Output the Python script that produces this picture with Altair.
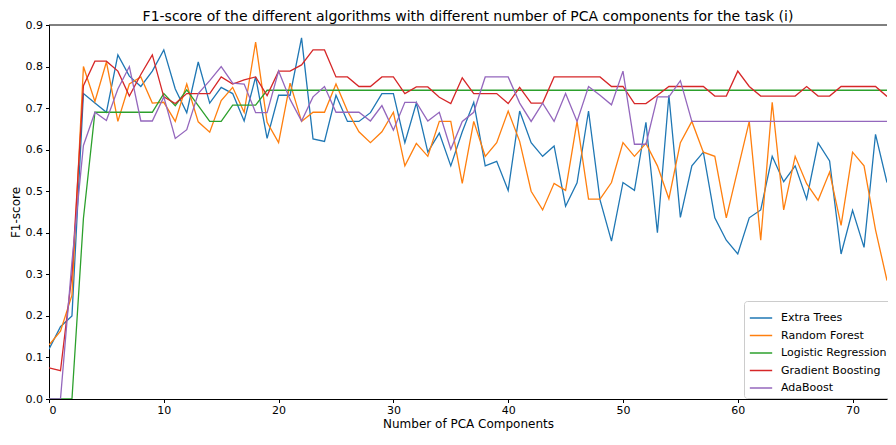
import altair as alt
import pandas as pd

n_components = list(range(74))

extra_trees = [0.12, 0.174, 0.2, 0.735, 0.712, 0.69, 0.828, 0.777, 0.752, 0.789,
               0.84, 0.746, 0.689, 0.811, 0.712, 0.75, 0.735, 0.669, 0.775, 0.627,
               0.731, 0.731, 0.869, 0.626, 0.62, 0.731, 0.668, 0.668, 0.689, 0.735,
               0.735, 0.617, 0.712, 0.594, 0.64, 0.561, 0.643, 0.714, 0.561, 0.572,
               0.502, 0.693, 0.617, 0.584, 0.609, 0.464, 0.52, 0.693, 0.479, 0.38,
               0.521, 0.502, 0.666, 0.40, 0.731, 0.437, 0.561, 0.594, 0.436, 0.382,
               0.349, 0.436, 0.455, 0.584, 0.523, 0.561, 0.481, 0.616, 0.573, 0.349,
               0.454, 0.365, 0.637, 0.521]

random_forest = [0.13, 0.163, 0.25, 0.8, 0.716, 0.811, 0.668, 0.758, 0.775, 0.712,
                 0.714, 0.668, 0.758, 0.667, 0.642, 0.718, 0.75, 0.69, 0.859, 0.666,
                 0.617, 0.76, 0.668, 0.69, 0.69, 0.758, 0.693, 0.643, 0.617, 0.643,
                 0.69, 0.561, 0.615, 0.584, 0.668, 0.668, 0.519, 0.668, 0.584, 0.617,
                 0.693, 0.62, 0.5, 0.455, 0.519, 0.502, 0.668, 0.481, 0.481, 0.521,
                 0.617, 0.584, 0.615, 0.561, 0.482, 0.617, 0.668, 0.594, 0.584, 0.436,
                 0.552, 0.668, 0.382, 0.714, 0.455, 0.584, 0.518, 0.478, 0.546, 0.418,
                 0.594, 0.561, 0.407, 0.285]

logistic_regression = [0.0, 0.0, 0.0, 0.435, 0.69, 0.69, 0.69, 0.69, 0.69, 0.69,
                       0.735, 0.706, 0.744, 0.706, 0.668, 0.668, 0.707, 0.707, 0.707, 0.743,
                       0.743, 0.743, 0.743, 0.743, 0.743, 0.743, 0.743, 0.743, 0.743, 0.743,
                       0.743, 0.743, 0.743, 0.743, 0.743, 0.743, 0.743, 0.743, 0.743, 0.743,
                       0.743, 0.743, 0.743, 0.743, 0.743, 0.743, 0.743, 0.743, 0.743, 0.743,
                       0.743, 0.743, 0.743, 0.743, 0.743, 0.743, 0.743, 0.743, 0.743, 0.743,
                       0.743, 0.743, 0.743, 0.743, 0.743, 0.743, 0.743, 0.743, 0.743, 0.743,
                       0.743, 0.743, 0.743, 0.743]

gradient_boosting = [0.075, 0.068, 0.30, 0.754, 0.813, 0.813, 0.789, 0.729, 0.781, 0.828,
                     0.727, 0.711, 0.735, 0.735, 0.735, 0.775, 0.758, 0.768, 0.775, 0.73,
                     0.789, 0.789, 0.804, 0.84, 0.84, 0.775, 0.775, 0.752, 0.752, 0.775,
                     0.775, 0.735, 0.751, 0.751, 0.726, 0.711, 0.773, 0.735, 0.735, 0.735,
                     0.711, 0.75, 0.712, 0.712, 0.775, 0.775, 0.775, 0.775, 0.775, 0.752,
                     0.752, 0.711, 0.711, 0.731, 0.752, 0.752, 0.752, 0.752, 0.729, 0.729,
                     0.789, 0.752, 0.729, 0.729, 0.729, 0.729, 0.752, 0.729, 0.729, 0.752,
                     0.752, 0.752, 0.752, 0.728]

adaboost = [0.0, 0.0, 0.33, 0.61, 0.69, 0.67, 0.746, 0.8, 0.669, 0.669,
            0.727, 0.627, 0.648, 0.735, 0.766, 0.8, 0.76, 0.758, 0.689, 0.689,
            0.789, 0.721, 0.669, 0.727, 0.752, 0.69, 0.69, 0.69, 0.669, 0.706,
            0.647, 0.714, 0.714, 0.669, 0.69, 0.601, 0.668, 0.69, 0.775, 0.775,
            0.775, 0.712, 0.668, 0.712, 0.668, 0.735, 0.668, 0.752, 0.731, 0.708,
            0.789, 0.613, 0.613, 0.727, 0.727, 0.766, 0.668, 0.668, 0.668, 0.668,
            0.668, 0.668, 0.668, 0.668, 0.668, 0.668, 0.668, 0.668, 0.668, 0.668,
            0.668, 0.668, 0.668, 0.668]

names = ["Extra Trees", "Random Forest", "Logistic Regression", "Gradient Boosting", "AdaBoost"]
colors = ["#1f77b4", "#ff7f0e", "#2ca02c", "#d62728", "#9467bd"]
series = [extra_trees, random_forest, logistic_regression, gradient_boosting, adaboost]

x_ticks = [0, 10, 20, 30, 40, 50, 60, 70]
y_ticks = [0.0, 0.1, 0.2, 0.3, 0.4, 0.5, 0.6, 0.7, 0.8, 0.9]

rows = []
for k, (name, vals) in enumerate(zip(names, series)):
    for n, v in zip(n_components, vals):
        rows.append({"n": n, "f1": v, "model": name, "k": k})
df = pd.DataFrame(rows)

FONT = "DejaVu Sans"

lines = alt.Chart(df).mark_line(strokeWidth=1.3, clip=True).encode(
    x=alt.X("n:Q",
            scale=alt.Scale(domain=[0, 73], nice=False, zero=False),
            axis=alt.Axis(values=x_ticks, title="Number of PCA Components", grid=False,
                          format="d", labelFontSize=11, titleFontSize=12,
                          titleFontWeight="normal", tickSize=3.5, labelPadding=2,
                          titlePadding=3, domainColor="black", tickColor="black",
                          labelColor="black", titleColor="black", labelFont=FONT,
                          titleFont=FONT)),
    y=alt.Y("f1:Q",
            scale=alt.Scale(domain=[0, 0.9], nice=False, zero=False),
            axis=alt.Axis(values=y_ticks, title="F1-score", grid=False, format=".1f",
                          labelFontSize=11, titleFontSize=12, titleFontWeight="normal",
                          tickSize=3.5, labelPadding=3, titlePadding=3,
                          domainColor="black", tickColor="black", labelColor="black",
                          titleColor="black", labelFont=FONT, titleFont=FONT)),
    color=alt.Color("model:N",
                    scale=alt.Scale(domain=names, range=colors),
                    sort=names,
                    legend=alt.Legend(orient="none", legendX=695, legendY=276,
                                      title=None, direction="vertical",
                                      symbolType="stroke", symbolStrokeWidth=1.5,
                                      symbolSize=500, labelFontSize=11, labelFont=FONT,
                                      labelColor="black", fillColor="white",
                                      strokeColor="#cccccc", cornerRadius=3,
                                      padding=5, rowPadding=0.5, labelOffset=8)),
    detail="k:O",
)

top_frame = alt.Chart(pd.DataFrame({"a": [0]})).mark_rule(color="black", strokeWidth=1).encode(
    y=alt.datum(0.9)
)

chart = alt.layer(lines, top_frame).properties(
    width=838,
    height=374,
    autosize=alt.AutoSizeParams(type="none"),
    padding={"left": 41, "top": 17, "right": 1, "bottom": 33},
    title=alt.TitleParams(
        "F1-score of the different algorithms with different number of PCA components for the task (i)",
        fontSize=14, fontWeight="normal", font=FONT, color="black", anchor="middle",
        offset=4, frame="group", dy=9),
).configure_view(strokeWidth=0)

chart.save("out.html", embed_options={"renderer": "svg", "actions": False})
